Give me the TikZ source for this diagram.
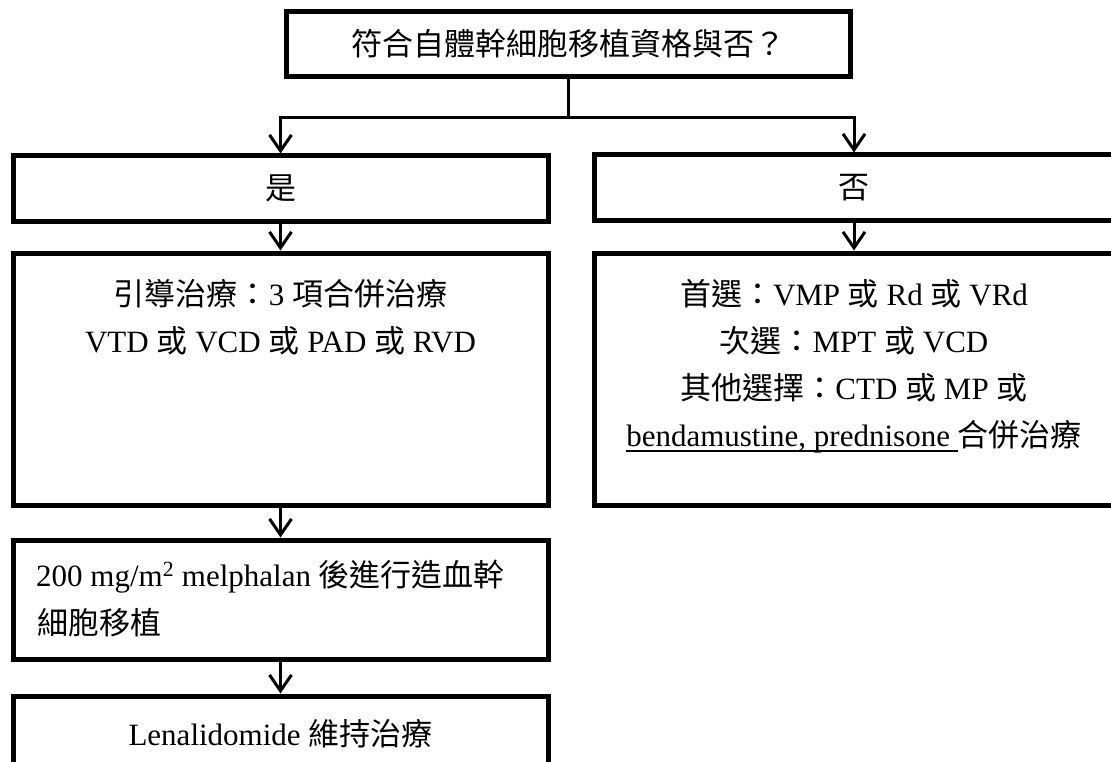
\documentclass[tikz,border=0pt]{standalone}
\usepackage{fontspec}
\setmainfont{Liberation Serif}
\newfontfamily\cjk{Noto Sans CJK TC}
\usetikzlibrary{arrows.meta}
\newcommand\zh[1]{{\cjk #1}}
\newcommand\ulin[1]{\setbox0\hbox{#1}\rlap{\rule[-5.5pt]{\wd0}{1.6pt}}\box0}
\begin{document}
\begin{tikzpicture}[x=1pt,y=-1pt,
  box/.style={draw, line width=5pt, inner sep=0pt},
  conn/.style={line width=3pt},
  arr/.style={line width=3pt, -{Straight Barb[length=16pt,width=22pt]}},
  txt/.style={inner sep=0pt, anchor=base, font=\fontsize{31}{37}\selectfont},
  ]
\useasboundingbox (0,0) rectangle (1111,762);
\fill[white] (0,0) rectangle (1111,762);
% boxes
\node[box, minimum width=564pt, minimum height=65pt] (top) at (568,44.5) {};
\node[box, minimum width=535pt, minimum height=66pt] (yes) at (280.5,189) {};
\node[box, minimum width=520pt, minimum height=66pt] (no) at (854,188) {};
\node[box, minimum width=535pt, minimum height=252pt] (ind) at (280.5,379) {};
\node[box, minimum width=520pt, minimum height=252pt] (rbox) at (854,379) {};
\node[box, minimum width=535pt, minimum height=119pt] (asct) at (280.5,599.5) {};
\node[box, minimum width=535pt, minimum height=74pt] (maint) at (280.5,733) {};
% texts
\node[txt] (ttop) at (568,56) {\zh{符合自體幹細胞移植資格與否？}};
\node[txt] (tyes) at (280.5,200) {\zh{是}};
\node[txt] (tno) at (854,199) {\zh{否}};
\node[txt] (ind1) at (280.5,305) {\zh{引導治療：}3 \zh{項合併治療}};
\node[txt] (ind2) at (280.5,352) {VTD \zh{或} VCD \zh{或} PAD \zh{或} RVD};
\node[txt] (r1) at (854,305) {\zh{首選：}VMP \zh{或} Rd \zh{或} VRd};
\node[txt] (r2) at (854,352) {\zh{次選：}MPT \zh{或} VCD};
\node[txt] (r3) at (854,399) {\zh{其他選擇：}CTD \zh{或} MP \zh{或}};
\node[txt] (r4) at (854,446) {\ulin{bendamustine, prednisone }\zh{合併治療}};
\node[txt, anchor=base west] (a1) at (36,586) {200 mg/m\textsuperscript{2} melphalan \zh{後進行造血幹}};
\node[txt, anchor=base west] (a2) at (37,634) {\zh{細胞移植}};
\node[txt] (m1) at (280.5,745) {Lenalidomide \zh{維持治療}};
% connectors
\coordinate (split) at (568,118);
\draw[conn] (top.south) -- (split);
\draw[arr] (split) -| (yes.north);
\draw[arr] (split) -| (no.north);
\draw[arr] (yes.south) -- (ind.north);
\draw[arr] (no.south) -- (rbox.north);
\draw[arr] (ind.south) -- (asct.north);
\draw[arr] (asct.south) -- (maint.north);
\end{tikzpicture}
\end{document}
